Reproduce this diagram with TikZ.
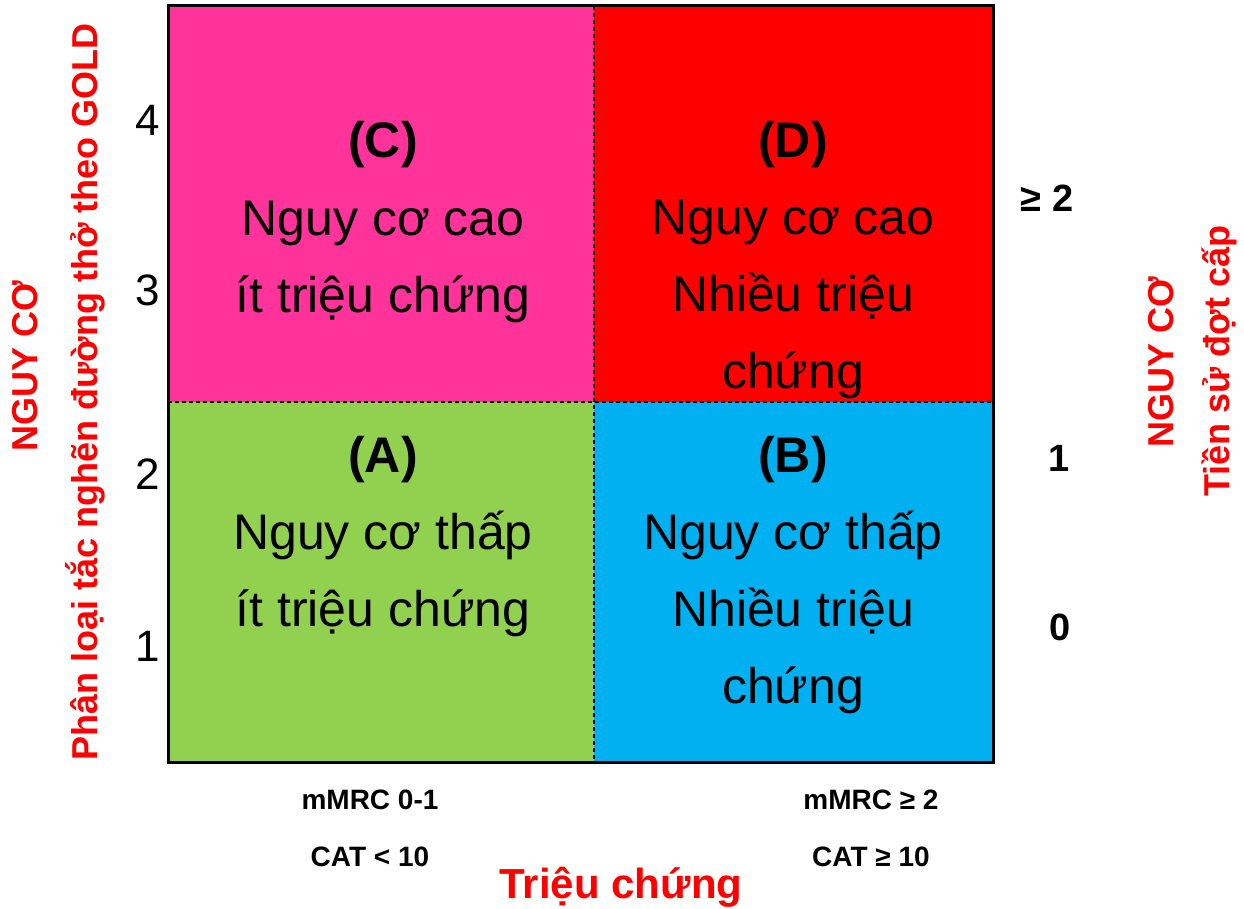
\documentclass[tikz,border=0pt]{standalone}
\usepackage{fontspec}
\setmainfont{Liberation Sans}
\definecolor{cpink}{HTML}{FF3399}
\definecolor{cred}{HTML}{FF0000}
\definecolor{cgreen}{HTML}{92D050}
\definecolor{cblue}{HTML}{00B0F0}
\begin{document}
\begin{tikzpicture}[x=1pt,y=-1pt,
  quad/.style={align=center, inner sep=0pt, anchor=base, font=\fontsize{50}{77}\selectfont},
  lnum/.style={inner sep=0pt, font=\fontsize{44}{44}\selectfont},
  rnum/.style={inner sep=0pt, font=\bfseries\fontsize{38}{38}\selectfont},
  crit/.style={inner sep=0pt, font=\bfseries\fontsize{28}{28}\selectfont},
  axlab/.style={inner sep=0pt, anchor=base, rotate=90, text=cred, font=\bfseries\fontsize{36}{36}\selectfont}]
\useasboundingbox (0,0) rectangle (1244,909);
% quadrants
\fill[cpink] (168,6) rectangle (594,402);
\fill[cred] (594,6) rectangle (993,402);
\fill[cgreen] (168,402) rectangle (594,762);
\fill[cblue] (594,402) rectangle (993,762);
\coordinate (vt) at (594,6);
\coordinate (vb) at (594,762);
\coordinate (hl) at (168,402);
\coordinate (hr) at (993,402);
\draw[line width=1.2pt, dash pattern=on 4pt off 3pt] (vt) -- (vb);
\draw[line width=1.2pt, dash pattern=on 4pt off 3pt] (hl) -- (hr);
\draw[line width=3pt] (168,6) rectangle (993,762);
% quadrant texts (anchored at the baseline of the last line)
\node[quad] (qc) at (383,312) {\textbf{(C)}\\Nguy cơ cao\\ít triệu chứng};
\node[quad] (qd) at (793,388) {\textbf{(D)}\\Nguy cơ cao\\Nhiều triệu\\chứng};
\node[quad] (qa) at (383,626) {\textbf{(A)}\\Nguy cơ thấp\\ít triệu chứng};
\node[quad] (qb) at (793,703) {\textbf{(B)}\\Nguy cơ thấp\\Nhiều triệu\\chứng};
% left numbers
\node[lnum] (l4) at (148,120) {4};
\node[lnum] (l3) at (148,290) {3};
\node[lnum] (l2) at (148,474) {2};
\node[lnum] (l1) at (148,646) {1};
% right numbers
\node[rnum] (r2) at (1047,198) {≥ 2};
\node[rnum] (r1) at (1059,458) {1};
\node[rnum] (r0) at (1060,627) {0};
% bottom criteria
\node[crit] (m1) at (370,800) {mMRC 0-1};
\node[crit] (c1) at (370,857) {CAT < 10};
\node[crit] (m2) at (871,800) {mMRC ≥ 2};
\node[crit] (c2) at (871,857) {CAT ≥ 10};
\node[inner sep=0pt, anchor=base, text=cred, font=\bfseries\fontsize{42}{42}\selectfont] (tc) at (621,898) {Triệu chứng};
% axis labels
\node[axlab] (ln1) at (37,366) {NGUY CƠ};
\node[axlab] (ln2) at (97,392) {Phân loại tắc nghẽn đường thở theo GOLD};
\node[axlab] (rn1) at (1173,362) {NGUY CƠ};
\node[axlab] (rn2) at (1229,361) {Tiền sử đợt cấp};
\end{tikzpicture}
\end{document}
